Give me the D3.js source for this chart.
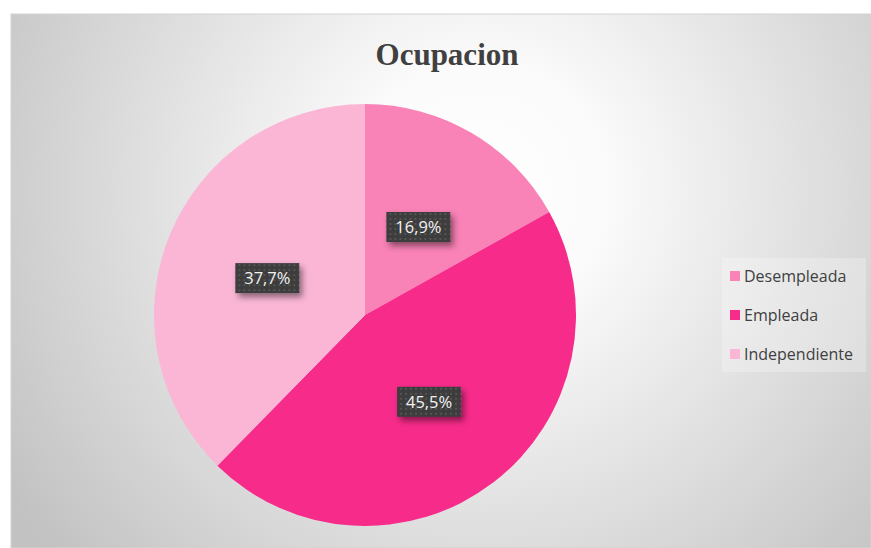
<!DOCTYPE html>
<html>
<head>
<meta charset="utf-8">
<script src="https://cdn.jsdelivr.net/npm/d3@7"></script>
<style>
  body { margin: 0; background: #fff; }
  svg { display: block; }
</style>
</head>
<body>
<div id="chart"></div>
<script>
var W = 871, H = 548;

// datos
var categories = ["Desempleada", "Empleada", "Independiente"];
var values = [16.9, 45.5, 37.7];
var colors = ["#F982B6", "#F72B8A", "#FBB6D6"];
var title = "Ocupacion";

var svg = d3.select("#chart").append("svg")
    .attr("width", W)
    .attr("height", H);

var defs = svg.append("defs");

// fondo con degradado radial
var grad = defs.append("radialGradient")
    .attr("id", "bg")
    .attr("gradientUnits", "userSpaceOnUse")
    .attr("cx", 480).attr("cy", 190).attr("r", 560);
grad.append("stop").attr("offset", "0%").attr("stop-color", "#ffffff");
grad.append("stop").attr("offset", "22%").attr("stop-color", "#fbfbfb");
grad.append("stop").attr("offset", "100%").attr("stop-color", "#c2c2c2");

// patron punteado para las etiquetas
var pat = defs.append("pattern")
    .attr("id", "dots")
    .attr("patternUnits", "userSpaceOnUse")
    .attr("width", 5).attr("height", 5);
pat.append("rect").attr("width", 5).attr("height", 5).attr("fill", "#3c3c3c");
pat.append("rect").attr("x", 1).attr("y", 1).attr("width", 2).attr("height", 2).attr("fill", "#545454");

var shadow = defs.append("filter").attr("id", "shadow")
    .attr("x", "-30%").attr("y", "-30%").attr("width", "170%").attr("height", "190%");
shadow.append("feDropShadow")
    .attr("dx", 3).attr("dy", 4).attr("stdDeviation", 3)
    .attr("flood-color", "#000").attr("flood-opacity", 0.45);

svg.append("rect")
    .attr("x", 11).attr("y", 14)
    .attr("width", W - 11).attr("height", H - 14)
    .attr("fill", "url(#bg)")
    .attr("stroke", "#d4d4d4");

svg.append("text")
    .attr("x", 447).attr("y", 65)
    .attr("text-anchor", "middle")
    .style("font-family", "'Liberation Serif', 'Times New Roman', serif")
    .style("font-weight", "bold")
    .style("font-size", "31px")
    .attr("fill", "#404040")
    .text(title);

var cx = 365, cy = 315, radius = 211;

var pie = d3.pie().sort(null).value(function(d) { return d; });
var arc = d3.arc().innerRadius(0).outerRadius(radius);
var labelArc = d3.arc().innerRadius(radius * 0.5).outerRadius(radius * 0.5);

var arcs = pie(values);

var g = svg.append("g").attr("transform", "translate(" + cx + "," + cy + ")");

g.selectAll("path")
    .data(arcs)
    .enter()
    .append("path")
    .attr("d", arc)
    .attr("fill", function(d, i) { return colors[i]; });

var fmt = function(v) { return v.toFixed(1).replace(".", ",") + "%"; };

var lab = g.selectAll("g.lab")
    .data(arcs)
    .enter()
    .append("g")
    .attr("class", "lab")
    .attr("transform", function(d) {
      var c = labelArc.centroid(d);
      return "translate(" + c[0] + "," + (c[1] + 3) + ")";
    });

lab.append("rect")
    .attr("x", -32).attr("y", -15)
    .attr("width", 64).attr("height", 30)
    .attr("fill", "url(#dots)")
    .attr("filter", "url(#shadow)");

lab.append("text")
    .attr("text-anchor", "middle")
    .attr("dy", "0.36em")
    .style("font-family", "'Open Sans', 'DejaVu Sans', sans-serif")
    .style("font-size", "16.5px")
    .attr("fill", "#f2f2f2")
    .text(function(d) { return fmt(d.data); });

// leyenda
var legend = svg.append("g");
legend.append("rect")
    .attr("x", 722).attr("y", 258)
    .attr("width", 144).attr("height", 114)
    .attr("fill", "#ffffff").attr("fill-opacity", 0.25);

var item = legend.selectAll("g.item")
    .data(categories)
    .enter()
    .append("g")
    .attr("class", "item")
    .attr("transform", function(d, i) { return "translate(730," + (276 + i * 39) + ")"; });

item.append("rect")
    .attr("x", 0).attr("y", -5)
    .attr("width", 10).attr("height", 10)
    .attr("fill", function(d, i) { return colors[i]; });

item.append("text")
    .attr("x", 14).attr("dy", "0.35em")
    .style("font-family", "'Open Sans', 'DejaVu Sans', sans-serif")
    .style("font-size", "16px")
    .attr("fill", "#404040")
    .text(function(d) { return d; });
</script>
</body>
</html>
